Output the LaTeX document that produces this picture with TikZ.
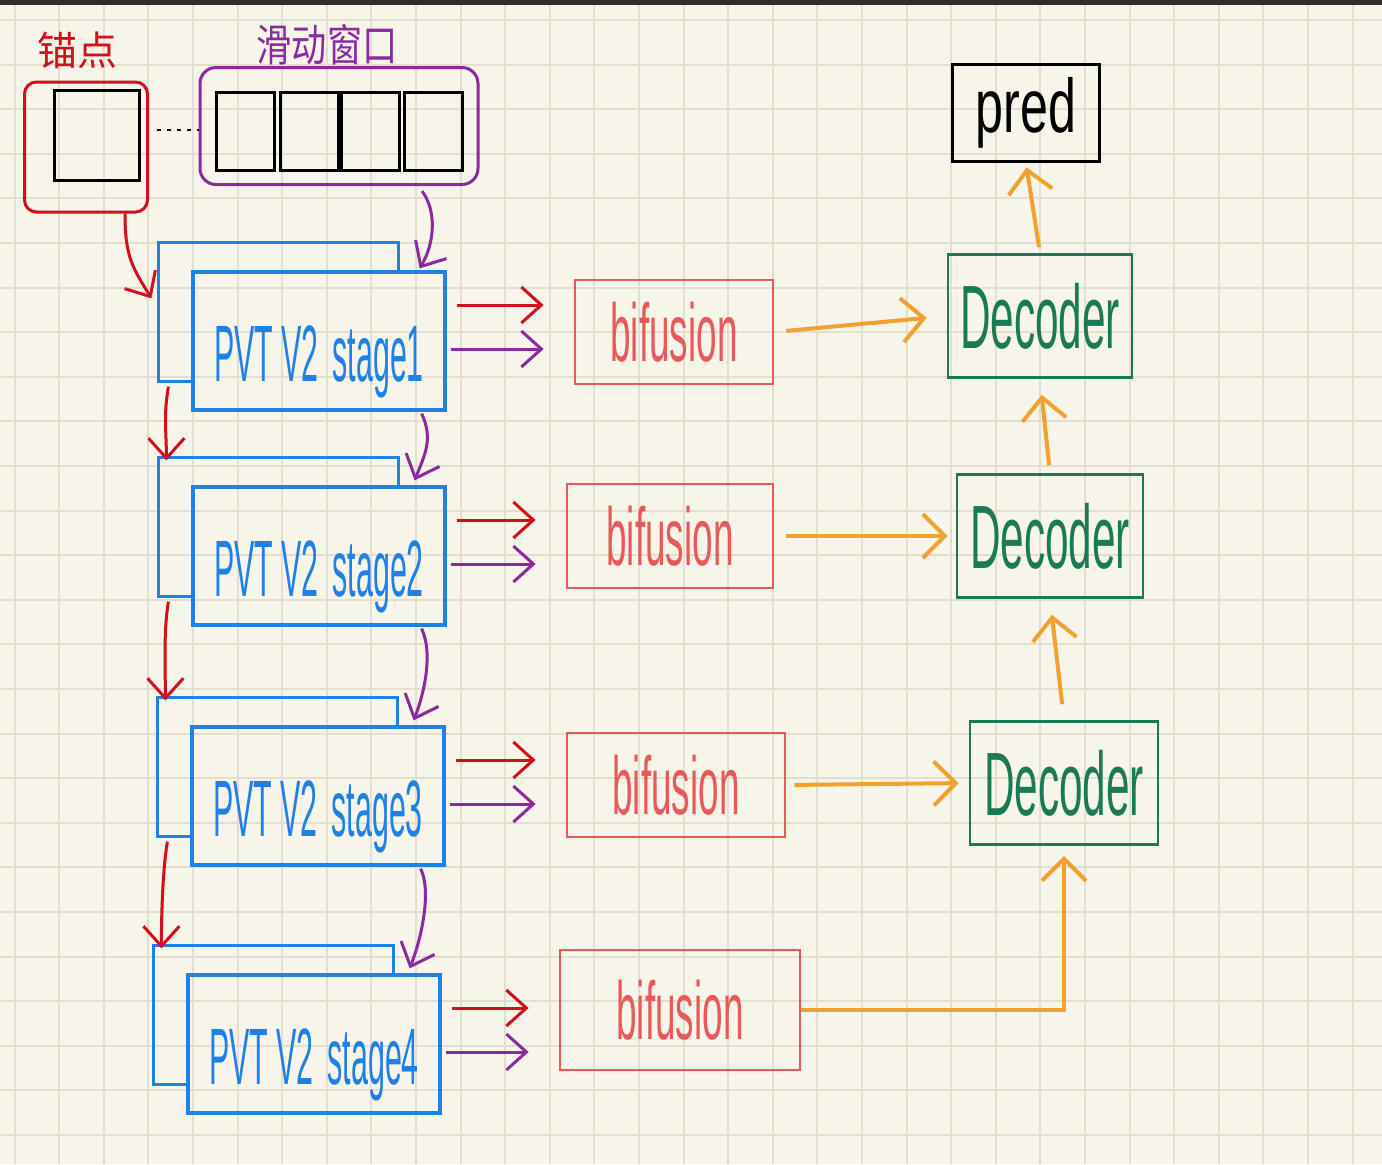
\documentclass[tikz,border=0pt]{standalone}
\usepackage{fontspec}
\setmainfont{Liberation Sans}
\newfontfamily\cjk{Noto Sans CJK SC}
\usepackage{graphicx}
\usetikzlibrary{arrows.meta,calc,positioning}

\definecolor{paper}{HTML}{F7F4E9}
\definecolor{gridc}{HTML}{E2DED2}
\definecolor{pvtblue}{HTML}{1F80E6}
\definecolor{ancred}{HTML}{D0101A}
\definecolor{fusred}{HTML}{E85A5A}
\definecolor{winpurple}{HTML}{8A2A9E}
\definecolor{decorange}{HTML}{F2A030}
\definecolor{decgreen}{HTML}{1A7A55}

\newcommand{\narrow}[2]{\scalebox{#1}[1]{#2}}
\newcommand{\stagetext}[1]{\raisebox{-20pt}[0pt][0pt]{\narrow{0.38}{PVT V2\hspace{0.45em}stage#1}}}

\tikzset{
  gridline/.style={gridc, line width=1pt},
  stagebox/.style={draw=pvtblue, line width=1.6pt, minimum width=126pt, minimum height=69pt,
    inner sep=0pt, text=pvtblue, font=\fontsize{40}{40}\selectfont},
  backline/.style={pvtblue, line width=1.6pt},
  fusbox/.style={draw=fusred, line width=1.4pt, minimum height=52pt, inner sep=0pt,
    text=fusred, font=\fontsize{41}{41}\selectfont},
  decbox/.style={draw=decgreen, line width=1.4pt, minimum width=93pt, minimum height=61.5pt,
    inner sep=0pt, text=decgreen, font=\fontsize{45}{45}\selectfont},
  tip/.style={-{Straight Barb[length=10pt,width=18pt]}},
  redarrow/.style={tip, ancred, line width=1.5pt},
  purplearrow/.style={tip, winpurple, line width=1.5pt},
  orangearrow/.style={-{Straight Barb[length=11pt,width=22pt]}, decorange, line width=2pt},
}

\begin{document}
\begin{tikzpicture}[x=0.5pt,y=-0.5pt]
\fill[paper] (0,0) rectangle (1382,1164);
\useasboundingbox (0,0) rectangle (1382,1164);
% grid paper
\foreach \i in {0,...,30}
  \draw[gridline] ({14.5+44.6*\i},5) -- ({14.5+44.6*\i},1164);
\foreach \j in {0,...,25}
  \draw[gridline] (0,{20+44.6*\j}) -- (1382,{20+44.6*\j});
\fill[black!82] (0,0) rectangle (1382,5);

% anchor frame and sliding window
\node[draw=ancred, line width=1.5pt, rounded corners=6pt, minimum width=61.5pt, minimum height=65pt] (anc) at (86,147) {};
\node[draw, line width=1.5pt, minimum width=42.5pt, minimum height=45pt] (ancsq) at (97,135) {};
\node[text=ancred, font=\cjk\fontsize{20}{20}\selectfont] (anclabel) at (77,50) {锚点};
\node[draw=winpurple, line width=1.5pt, rounded corners=8pt, minimum width=139pt, minimum height=58.5pt] (win) at (339,126) {};
\foreach \x [count=\k] in {245,309,370,433}
  \node[draw, line width=1.5pt, minimum width=29pt, minimum height=39pt] (w\k) at (\x,131) {};
\node[text=winpurple, font=\cjk\fontsize{22}{22}\selectfont] (winlabel) at (327,45) {\narrow{0.8}{滑动窗口}};

% encoder stages
\node[stagebox] (s1) at (319,341) {\stagetext{1}};
\node[stagebox] (s2) at (319,556) {\stagetext{2}};
\node[stagebox] (s3) at (318,796) {\stagetext{3}};
\node[stagebox] (s4) at (314,1044) {\stagetext{4}};
\foreach \i in {1,...,4}
  \draw[backline] ($(s\i.south west)+(0,-30)$) -- ($(s\i.south west)+(-33,-30)$)
    -- ($(s\i.north west)+(-33,-28)$) -- ($(s\i.north east)+(-48,-28)$) -- ($(s\i.north east)+(-48,0)$);

% fusion blocks
\node[fusbox, minimum width=99pt] (b1) at (674,332) {\narrow{0.45}{bifusion}};
\node[fusbox, minimum width=103pt] (b2) at (670,536) {\narrow{0.45}{bifusion}};
\node[fusbox, minimum width=109pt] (b3) at (676,785) {\narrow{0.45}{bifusion}};
\node[fusbox, minimum width=120pt, minimum height=60pt] (b4) at (680,1010) {\narrow{0.45}{bifusion}};

% decoders and output
\node[decbox, minimum width=92pt] (d1) at (1040,316) {\narrow{0.47}{Decoder}};
\node[decbox] (d2) at (1050,536) {\narrow{0.47}{Decoder}};
\node[decbox, minimum width=94pt] (d3) at (1064,783) {\narrow{0.47}{Decoder}};
\node[draw, line width=1.8pt, minimum width=73.5pt, minimum height=48.5pt, inner sep=0pt,
  font=\fontsize{38}{38}\selectfont] (pred) at (1026,113) {\narrow{0.66}{pred}};

% inputs
\draw[black, line width=1.3pt, dash pattern=on 2pt off 3pt] ($(anc.east)+(8,-17)$) -- ($(win.west)+(0,4)$);
\draw[redarrow] ($(anc.south)+(39,0)$) .. controls +(0,45) and +(-18,-30) .. ($(s1.north west)+(-40,28)$);
\draw[purplearrow] ($(win.south)+(83,5)$) .. controls +(15,20) and +(15,-25) .. ($(s1.north east)+(-27,-2)$);

% stage to stage
\foreach \i/\j in {1/2,2/3,3/4} {
  \draw[redarrow] ($(s\i.south west)+(-23,-25)$) .. controls +(-5,30) and +(0,-30) .. ($(s\j.north west)+(-25,-25)$);
  \draw[purplearrow] ($(s\i.south east)+(-25,2)$) .. controls +(12,25) and +(10,-25) .. ($(s\j.north east)+(-32,-5)$);
}

% stage to fusion
\foreach \i in {1,...,4} {
  \path ($(s\i.east)+(10,-36)$) coordinate (r\i) ($(s\i.east)+(4,8)$) coordinate (p\i);
  \draw[redarrow, shorten >=15pt] (r\i) -- (r\i -| b\i.west);
  \draw[purplearrow, shorten >=15pt] (p\i) -- (p\i -| b\i.west);
}

% fusion to decoder
\draw[orangearrow, shorten <=6pt, shorten >=10pt] (b1.east) -- (d1.west);
\draw[orangearrow, shorten <=6pt, shorten >=4pt] (b2.east) -- (d2.west);
\draw[orangearrow, shorten <=4pt, shorten >=5pt] (b3.east) -- (d3.west);
\draw[orangearrow, shorten >=5pt] (b4.east) -| (d3.south);
\draw[orangearrow, shorten <=8pt, shorten >=8pt] (d3.north) -- (d2.south);
\draw[orangearrow, shorten <=4pt, shorten >=8pt] (d2.north) -- (d1.south);
\draw[orangearrow, shorten <=3pt, shorten >=2pt] (d1.north) -- (pred.south);
\end{tikzpicture}
\end{document}
